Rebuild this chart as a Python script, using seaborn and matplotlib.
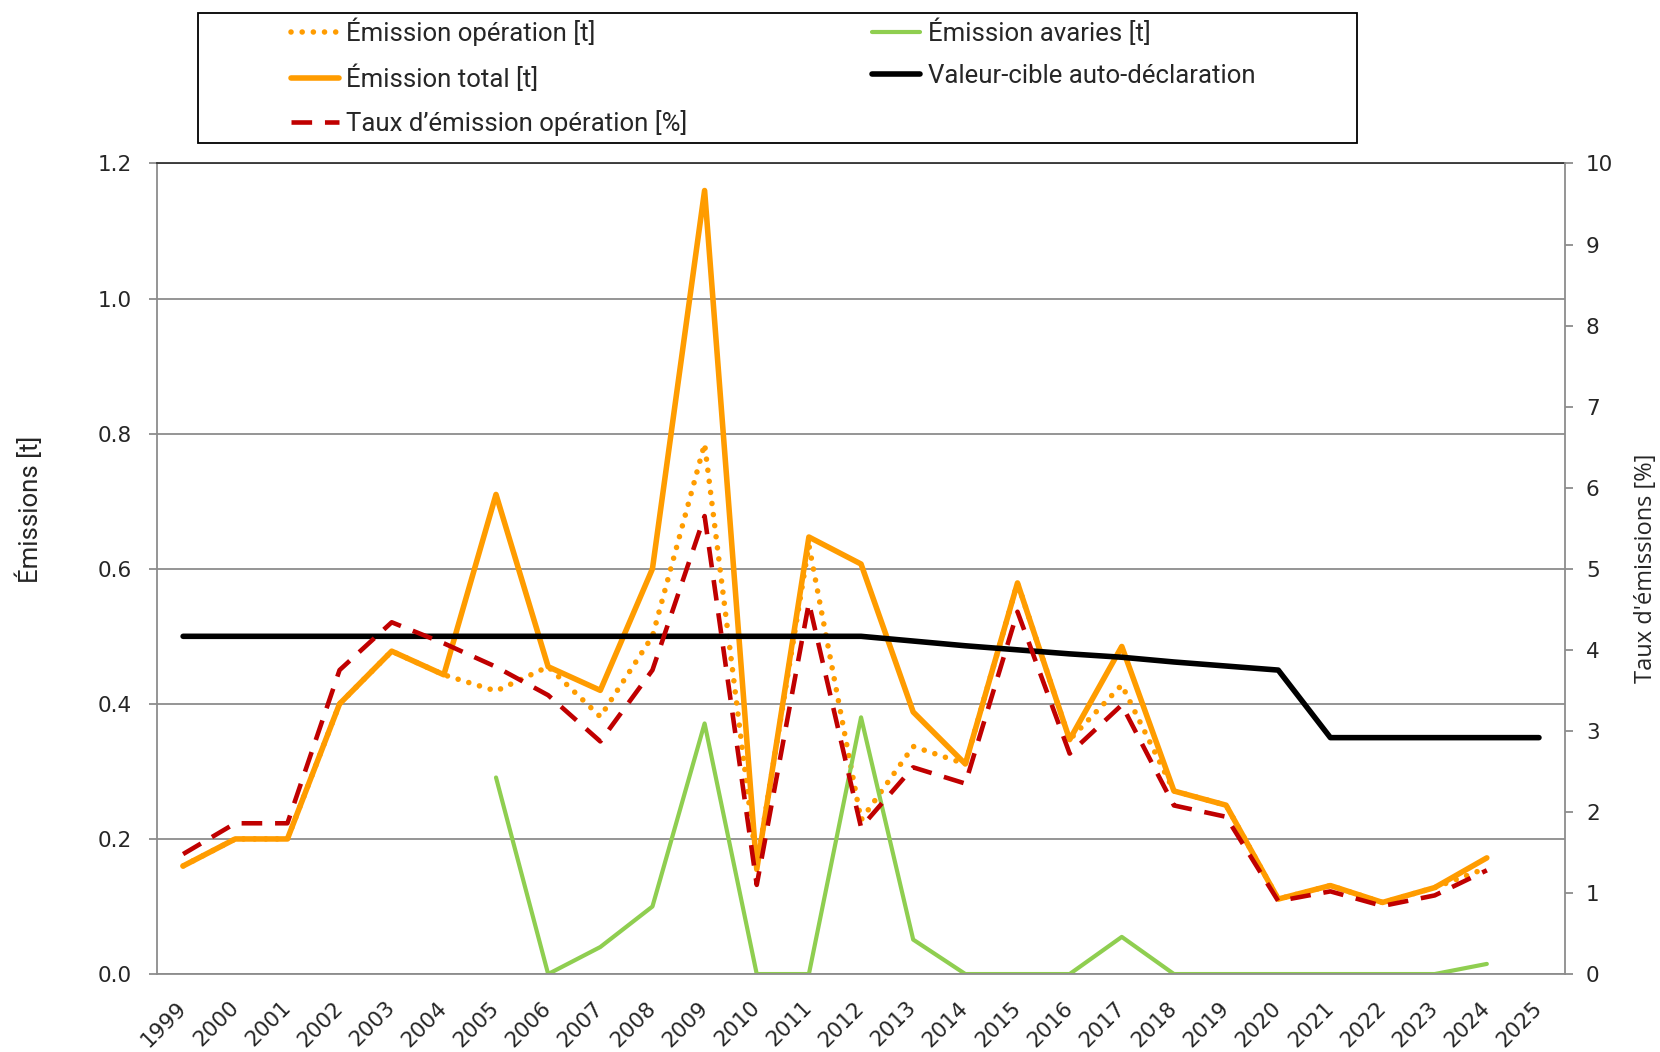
import numpy as np
import pandas as pd
import seaborn as sns
import matplotlib.pyplot as plt
from matplotlib.patches import Rectangle
from matplotlib.ticker import FormatStrFormatter

nan = np.nan
# Data ------------------------------------------------------------------------
years = list(range(1999, 2026))
em_oper = [0.16, 0.20, 0.20, 0.40, 0.478, 0.443, 0.419, 0.455, 0.381, 0.50,
           0.785, 0.16, 0.635, 0.228, 0.337, 0.311, 0.579, 0.347, 0.428,
           0.271, 0.25, 0.111, 0.131, 0.106, 0.128, 0.157, nan]
em_avar = [nan] * 6 + [0.291, 0.0, 0.04, 0.10, 0.371, 0.0, 0.0, 0.38, 0.051,
                       0.0, 0.0, 0.0, 0.055, 0.0, 0.0, 0.0, 0.0, 0.0, 0.0,
                       0.015, nan]
em_total = [0.16, 0.20, 0.20, 0.40, 0.478, 0.443, 0.71, 0.455, 0.42, 0.60,
            1.16, 0.155, 0.647, 0.607, 0.388, 0.311, 0.579, 0.347, 0.485,
            0.271, 0.25, 0.111, 0.131, 0.106, 0.128, 0.172, nan]
cible = [0.5] * 14 + [0.493, 0.486, 0.48, 0.474, 0.469, 0.462, 0.456, 0.45] + [0.35] * 5
taux = [1.48, 1.86, 1.86, 3.75, 4.34, 4.08, 3.79, 3.44, 2.87, 3.75, 5.65,
        1.10, 4.58, 1.81, 2.55, 2.35, 4.47, 2.72, 3.32, 2.08, 1.94, 0.90,
        1.02, 0.84, 0.97, 1.28, nan]
labels = ['Émission opération [t]', 'Émission avaries [t]', 'Émission total [t]',
          'Valeur-cible auto-déclaration', 'Taux d’émission opération [%]']
df = pd.DataFrame({'Année': years, labels[0]: em_oper, labels[1]: em_avar,
                   labels[2]: em_total, labels[3]: cible, labels[4]: taux})

# Style -----------------------------------------------------------------------
sns.set_theme(style='white')
plt.rcParams['font.family'] = ['DejaVu Sans']
(ORANGE, GREEN, RED, GRID) = ('#FF9C00', '#8FCE50', '#C00000', '#8C8C8C')
condFont = {'family': ['Roboto'], 'size': 18.5}

fig = plt.figure(figsize=(16.6, 10.52), dpi=100)
ax = fig.add_axes([0.0946, 0.0741, 0.8482, 0.7705])
ax2 = ax.twinx()

# Lines -----------------------------------------------------------------------
sns.lineplot(data=df, x='Année', y=labels[0], ax=ax, color=ORANGE, lw=4,
             linestyle=(0, (0.01, 2.0)), dash_capstyle='round',
             label=labels[0], errorbar=None)
sns.lineplot(data=df, x='Année', y=labels[1], ax=ax, color=GREEN, lw=3,
             label=labels[1], errorbar=None)
sns.lineplot(data=df, x='Année', y=labels[2], ax=ax, color=ORANGE, lw=4,
             label=labels[2], errorbar=None)
sns.lineplot(data=df, x='Année', y=labels[3], ax=ax, color='black', lw=4,
             label=labels[3], errorbar=None)
sns.lineplot(data=df, x='Année', y=labels[4], ax=ax2, color=RED, lw=3.3,
             linestyle=(0, (4.5, 2.8)), label=labels[4], errorbar=None)
for a in (ax, ax2):
    if a.get_legend() is not None:
        a.get_legend().remove()

# Axes ------------------------------------------------------------------------
ax.set_xlim(1998.5, 2025.5)
ax.set_ylim(0, 1.2)
ax2.set_ylim(0, 10)
ax.set_yticks(np.arange(0, 1.21, 0.2))
ax.yaxis.set_major_formatter(FormatStrFormatter('%.1f'))
ax2.set_yticks(range(0, 11))
ax.set_xticks(years)
ax.set_xticks([y - 0.5 for y in years] + [2025.5], minor=True)
ax.set_xticklabels([str(y) for y in years], rotation=45, ha='right',
                   va='center', rotation_mode='anchor')
ax.tick_params(axis='x', which='major', length=0, pad=22, labelsize=15.5)
ax.tick_params(axis='x', which='minor', length=6, width=1.3, color=GRID,
               direction='out')
ax.tick_params(axis='y', length=6, width=1.3, color=GRID, pad=12,
               labelsize=15.5, left=True)
ax2.tick_params(axis='y', length=6, width=1.3, color=GRID, pad=9,
                labelsize=15.5, right=True)
ax.yaxis.grid(True, color=GRID, lw=1.3)
ax.set_axisbelow(True)
ax2.grid(False)
for s in ('left', 'bottom'):
    ax.spines[s].set_color(GRID)
    ax.spines[s].set_linewidth(1.3)
ax.spines['top'].set_color('#333333')
ax.spines['top'].set_linewidth(1.3)
ax.spines['right'].set_visible(False)
for s in ('left', 'bottom', 'top'):
    ax2.spines[s].set_visible(False)
ax2.spines['right'].set_color(GRID)
ax2.spines['right'].set_linewidth(1.3)
ax.set_xlabel('')
ax.set_ylabel('Émissions [t]', fontdict=condFont)
ax.yaxis.set_label_coords(-0.081, 0.573)
ax2.set_ylabel('Taux d\'émissions [%]', fontsize=17, family='Open Sans',
               rotation=90)
ax2.yaxis.set_label_coords(1.049, 0.5)

# Legend ----------------------------------------------------------------------
(h1, l1) = ax.get_legend_handles_labels()
(h2, l2) = ax2.get_legend_handles_labels()
hd = dict(zip(l1 + l2, h1 + h2))
order = [labels[0], labels[2], labels[4], labels[1], labels[3]]
fig.legend(
    [hd[k] for k in order], order, loc='upper left',
    bbox_to_anchor=(0.1753, 0.983), ncol=2, frameon=False, borderpad=0,
    borderaxespad=0, handlelength=1.85, handletextpad=0.3, labelspacing=0.7,
    columnspacing=7.2, prop=condFont
)
fig.add_artist(Rectangle(
    (0.1193, 0.864), 0.698, 0.1236, transform=fig.transFigure,
    fill=False, ec='black', lw=1.3
))
fig.savefig('out.png', dpi=100)
